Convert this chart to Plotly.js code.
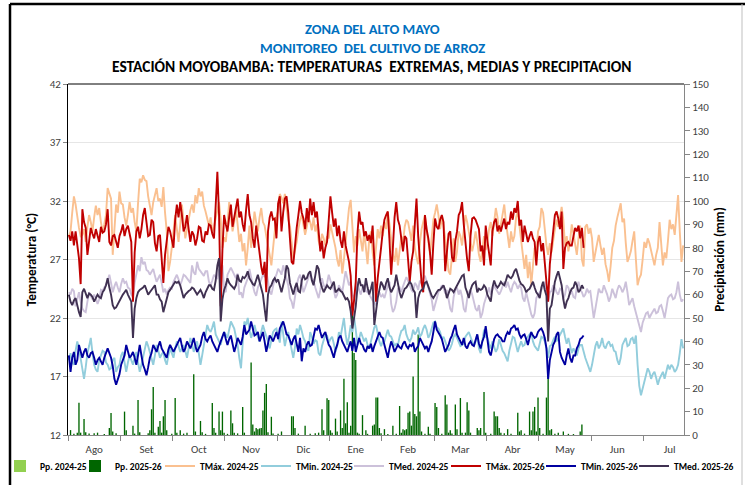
<!DOCTYPE html>
<html><head><meta charset="utf-8">
<script src="https://cdn.plot.ly/plotly-3.0.1.min.js"></script>
<style>html,body{margin:0;padding:0;background:#fff}#chart{width:745px;height:485px}</style>
</head><body><div id="chart"></div>
<script>
// Eje X: días de la campaña (agosto a julio), etiquetas cada 31 días
const monthLabels = ['Ago','Set','Oct','Nov','Dic','Ene','Feb','Mar','Abr','May','Jun','Jul'];

// Campaña 2024-25 (365 días)
const tmax2425 = [
29.0,29.4,31.0,32.4,31.7,30.6,29.7,29.0,29.1,29.6,28.5,29.8,30.8,30.2,29.4,30.6,31.6,30.8,31.4,30.2,29.4,30.0,30.8,33.1,32.6,32.2,27.4,29.6,31.7,31.0,32.8,
31.8,31.7,30.6,29.9,30.8,31.9,31.0,31.4,30.2,29.4,31.8,33.9,33.6,34.2,33.8,33.7,32.4,31.4,30.8,31.9,32.6,33.1,32.0,32.2,31.5,33.2,31.0,29.4,26.0,26.8,28.0,
29.5,30.8,29.6,28.5,30.0,31.7,30.2,28.8,29.6,30.5,31.2,31.7,31.0,32.5,31.8,33.1,32.4,32.8,31.6,31.1,30.4,29.9,30.6,29.4,29.8,30.5,31.2,31.9,30.4,28.0,28.9,
28.5,30.0,31.9,30.8,29.4,30.2,31.4,30.0,28.5,29.2,27.7,28.4,26.5,28.0,29.9,28.0,29.4,31.1,30.2,29.4,30.6,31.4,30.2,29.9,29.0,28.0,27.4,26.5,28.2,29.4,30.6,
31.2,32.6,32.3,31.8,32.6,31.4,30.4,29.9,28.6,27.1,27.8,28.5,29.6,30.4,30.8,30.0,29.1,29.8,30.6,30.2,29.5,30.6,29.4,30.0,28.6,28.0,29.2,28.8,28.2,29.0,28.8,
30.0,29.4,28.6,28.0,27.0,26.4,27.8,25.8,27.0,28.4,30.2,31.4,32.1,30.0,27.6,29.0,28.2,29.6,28.4,27.7,29.4,28.0,26.6,28.8,29.4,27.6,26.5,28.0,29.6,28.8,29.9,
29.0,30.2,29.6,31.1,30.0,28.8,27.4,26.8,28.0,26.5,27.6,29.0,28.4,29.8,30.4,30.2,29.4,28.6,29.9,28.0,27.2,26.6,28.4,29.6,30.2,30.8,29.4,28.6,27.4,28.9,30.4,
31.0,31.7,30.8,29.6,30.5,29.9,28.8,27.4,26.0,25.7,27.6,28.8,26.8,27.7,29.4,29.0,28.2,29.6,30.8,30.2,29.4,28.6,27.7,28.4,29.4,28.5,27.4,26.8,28.0,29.0,27.8,
28.4,29.6,30.2,29.0,30.4,31.4,30.6,29.2,30.0,30.8,31.7,30.2,28.8,28.0,29.4,28.5,29.0,30.6,31.1,29.8,28.4,27.0,26.2,27.4,25.4,26.8,24.8,26.5,28.0,27.2,29.4,
29.8,31.4,31.0,29.4,28.2,27.4,28.4,27.6,28.8,29.6,30.4,29.8,30.6,31.5,30.4,28.2,29.0,27.7,28.6,30.0,29.2,28.4,27.4,28.8,29.9,27.0,26.4,29.8,30.0,29.2,29.7,
28.8,26.8,27.6,28.4,29.1,28.2,27.4,28.0,26.6,26.0,25.1,26.4,28.0,28.6,29.9,30.6,31.2,31.8,30.2,30.5,28.4,26.8,27.2,27.7,28.6,29.4,27.0,24.8,25.4,25.7,27.0,
28.5,28.0,28.8,28.4,27.7,27.0,26.5,27.4,28.0,30.2,28.4,26.5,27.6,27.1,28.6,30.4,29.6,30.0,29.1,30.6,32.5,29.4,26.8,28.2];

const tmin2425 = [
18.4,19.0,18.2,18.0,19.2,20.0,19.4,18.6,17.6,16.8,17.8,19.0,19.6,20.3,19.0,18.0,17.6,17.4,18.4,18.8,19.2,19.1,18.2,18.0,17.6,17.7,18.4,18.6,17.4,17.8,18.0,
18.8,19.1,18.2,17.4,18.2,18.8,18.4,18.0,18.6,19.1,18.2,17.4,18.0,18.6,19.4,20.0,19.6,19.1,18.6,18.0,18.8,19.7,19.2,18.6,18.9,19.1,18.4,18.0,18.8,19.4,19.0,
18.6,19.4,20.0,19.6,19.1,19.4,19.7,19.2,18.6,19.4,20.3,19.8,19.1,19.6,20.0,19.0,18.0,18.8,19.7,20.6,21.4,21.0,20.8,21.2,21.7,20.6,20.3,20.0,19.7,20.4,20.8,
20.6,20.3,21.0,21.7,21.4,21.1,20.4,19.7,18.6,17.7,19.8,21.7,21.4,22.0,21.0,20.3,20.8,21.4,20.8,20.4,20.0,20.8,21.4,20.9,20.5,20.0,19.4,20.2,20.8,21.0,21.1,
20.4,19.9,21.7,20.6,19.6,20.3,20.8,20.0,19.1,18.6,19.5,21.1,20.6,21.4,20.9,20.3,20.0,19.4,19.2,20.8,20.4,19.8,20.1,20.0,19.0,18.8,19.6,20.2,20.6,20.5,19.9,
20.2,20.4,19.8,19.1,19.6,20.8,20.4,21.2,22.0,20.6,19.7,20.4,21.4,20.8,22.1,21.0,19.7,20.2,20.8,20.4,20.0,20.3,19.7,19.4,20.0,20.6,21.2,21.4,20.6,20.0,19.6,
20.0,20.0,20.6,21.0,20.5,20.4,20.0,19.6,19.8,19.7,20.4,20.9,21.0,21.4,20.6,20.2,20.0,20.3,21.0,20.6,20.8,21.2,20.4,20.6,21.1,21.4,21.0,20.3,20.6,21.2,21.6,
21.7,21.2,21.1,20.8,20.2,20.4,20.0,19.6,19.2,19.4,19.8,20.4,20.6,20.3,20.0,19.6,19.7,19.8,20.4,20.6,20.8,20.4,20.0,19.6,20.0,20.6,19.4,19.0,20.0,21.0,20.4,
20.3,19.8,19.4,20.0,19.6,19.1,19.4,20.2,19.7,19.2,19.0,18.6,18.3,19.2,19.8,20.4,20.3,19.7,19.1,19.6,20.0,19.6,19.7,20.2,20.4,20.6,20.8,20.0,19.6,19.4,19.2,
19.8,20.4,20.3,20.0,19.4,18.6,19.6,19.7,20.1,20.4,20.0,20.3,20.6,20.8,21.1,20.4,19.8,20.3,19.6,19.0,19.4,19.1,18.8,19.4,19.7,19.7,19.0,18.6,18.2,17.8,17.4,
18.0,18.8,19.6,20.0,19.4,19.7,20.3,19.6,19.4,19.8,20.0,19.6,19.7,19.2,19.1,18.4,18.0,18.6,19.7,20.0,20.3,19.6,19.7,20.2,20.3,19.8,20.5,18.0,16.2,15.4,16.0,
16.6,17.2,17.7,17.4,16.8,17.2,17.4,16.9,16.3,16.8,17.1,17.4,16.8,17.3,18.0,17.6,18.0,17.8,17.4,17.6,18.0,19.0,20.2,19.4];

const tmed2425 = [
24.2,24.0,24.5,24.3,23.0,23.6,24.2,23.4,22.8,22.6,22.5,23.4,24.2,23.9,23.6,24.0,23.7,23.2,23.6,24.4,24.3,24.6,24.8,25.2,25.7,25.0,24.2,24.7,25.1,24.6,24.2,
24.9,25.4,25.0,25.1,24.6,24.5,24.0,23.8,25.0,25.7,26.5,26.0,27.2,26.6,26.8,26.1,26.0,25.7,26.0,26.2,25.6,25.1,25.4,25.7,25.0,24.2,24.5,24.0,24.4,24.6,24.5,
25.1,25.4,25.7,25.3,24.8,25.2,25.7,25.6,25.4,25.1,25.0,26.5,25.9,25.7,26.8,26.2,26.0,25.7,25.6,26.0,26.0,25.1,24.8,25.2,25.7,25.5,25.4,26.1,26.2,26.5,24.5,
24.2,25.7,26.0,26.3,26.0,25.7,25.4,25.8,24.0,24.2,23.7,24.6,25.1,25.4,26.2,25.4,24.8,24.2,23.9,24.6,24.9,25.3,25.7,25.5,26.0,25.0,24.3,24.0,24.6,25.4,25.7,
26.2,26.0,25.7,26.5,25.9,25.4,24.8,23.7,23.4,22.8,24.0,24.8,25.4,25.7,25.0,24.2,24.6,25.1,25.6,25.9,25.4,25.2,24.6,24.2,23.7,24.4,25.4,24.8,24.5,25.0,25.7,
25.2,24.8,24.4,23.7,24.0,24.8,24.5,24.2,25.1,26.0,25.4,24.8,25.1,24.0,23.7,24.6,25.1,24.4,24.0,24.6,24.8,24.3,24.2,24.0,23.7,23.5,23.3,23.1,24.0,24.2,23.8,
24.0,23.7,24.4,24.8,25.1,23.2,22.5,22.8,23.4,24.5,24.6,24.2,24.7,25.1,25.5,25.2,24.8,24.4,24.2,25.0,24.8,24.4,25.2,25.0,25.4,25.6,25.1,24.6,24.2,23.6,22.6,
23.1,23.8,24.2,24.4,24.8,24.6,24.1,24.4,23.7,22.8,22.5,23.8,24.4,24.6,24.0,24.4,23.8,22.8,22.5,23.6,24.2,24.4,24.0,23.5,22.8,22.6,23.1,22.0,22.4,23.2,23.7,
24.2,24.6,24.0,24.4,24.8,24.5,24.2,24.0,24.3,24.8,25.1,24.6,25.1,24.6,24.2,24.8,25.1,24.9,24.5,24.8,24.6,23.7,23.4,24.2,23.6,22.8,22.3,22.0,22.4,23.7,24.0,
24.2,24.4,24.8,25.1,24.0,23.4,24.2,24.3,24.8,24.6,24.2,24.0,24.5,24.4,23.6,24.0,24.8,24.6,24.0,24.3,23.8,23.7,24.6,25.1,24.4,24.2,23.8,24.0,24.5,24.2,24.3,
23.1,22.0,22.8,23.6,24.5,24.2,24.2,24.8,24.4,24.0,23.4,23.8,24.5,24.0,23.7,24.4,24.8,24.6,24.2,24.5,25.1,24.2,23.1,23.4,23.7,23.0,22.5,22.0,21.4,20.8,21.6,
22.0,22.4,22.5,22.0,22.3,22.6,22.8,22.4,22.5,23.0,23.1,22.6,22.0,22.8,23.7,23.9,24.0,23.6,23.7,24.2,25.1,24.0,23.4,23.6];

// Campaña 2025-26 (306 días registrados)
const tmax2526 = [
29.1,28.6,29.4,28.2,29.4,28.0,27.1,24.9,31.3,30.2,29.7,27.4,28.6,29.7,29.2,28.8,29.6,29.1,28.5,29.8,29.3,29.4,30.0,31.3,28.5,28.2,29.0,29.1,28.4,28.0,29.0,
29.4,30.0,29.0,29.6,29.9,29.2,28.5,23.4,27.6,29.4,29.8,28.8,29.6,30.8,31.4,30.2,29.0,29.1,30.4,30.2,28.4,27.7,29.0,29.1,27.0,25.0,27.4,28.8,29.8,29.4,28.6,
28.0,30.4,31.7,30.6,31.9,30.8,29.4,29.8,30.8,29.6,28.5,29.4,29.1,28.2,28.8,29.8,29.7,28.6,28.5,29.4,29.1,30.0,29.9,29.2,28.8,31.6,34.5,30.8,23.0,27.8,30.8,
30.0,29.4,30.6,31.7,29.8,30.5,31.2,32.2,30.6,31.1,30.0,29.4,31.2,32.6,30.8,30.2,28.8,28.0,29.9,28.6,27.7,26.4,25.7,26.8,24.2,29.4,30.6,31.1,30.4,30.5,28.8,
31.8,32.4,29.4,31.0,32.2,32.4,31.0,28.8,26.8,26.6,28.4,29.7,30.8,32.0,31.0,30.5,29.6,31.4,30.2,32.2,30.8,31.9,30.6,31.1,29.4,27.7,28.6,27.1,28.0,28.5,30.4,
32.4,31.0,29.8,30.5,29.0,29.9,28.6,28.0,29.4,28.2,27.4,26.8,25.6,22.2,23.5,25.1,29.2,31.1,30.0,30.2,29.0,29.4,28.6,29.1,28.4,29.9,27.0,23.4,25.4,26.5,28.0,
29.4,30.4,30.8,31.1,28.6,25.7,28.0,30.6,31.9,30.4,29.9,28.8,27.7,29.0,28.8,27.0,25.1,26.8,27.7,30.0,32.2,29.0,26.5,25.0,24.2,30.8,29.6,28.8,27.6,25.7,28.4,
30.5,29.8,29.6,30.4,30.8,30.2,26.0,27.6,29.2,29.4,27.2,26.8,28.6,29.4,30.8,31.1,31.9,30.0,28.2,27.0,26.0,29.0,30.5,30.6,30.4,29.9,29.6,27.7,28.2,26.5,29.9,
28.6,27.7,26.5,29.4,30.2,30.5,29.4,29.9,29.4,30.0,30.5,29.6,30.2,30.0,31.1,30.4,31.4,31.0,32.0,29.9,30.4,28.5,29.9,29.2,28.5,29.0,29.4,28.8,28.5,26.5,28.5,
29.0,27.7,28.4,26.8,25.0,23.4,26.6,28.0,29.8,30.8,31.1,30.5,29.6,31.1,26.2,28.0,28.4,28.5,28.2,28.2,29.0,29.7,29.4,29.9,28.8,29.7,28.0];

const tmin2526 = [
18.8,17.4,18.6,19.1,18.0,18.4,19.7,19.0,18.6,19.1,19.4,18.8,18.6,19.0,19.1,18.6,18.0,18.4,18.6,18.3,18.0,18.6,19.1,19.4,19.0,18.6,17.9,16.8,16.3,16.8,17.2,
18.0,18.4,18.8,19.7,19.0,18.6,18.8,19.1,18.6,18.0,18.8,19.7,18.8,18.0,17.6,17.1,17.8,18.6,19.0,19.7,19.4,19.1,19.6,20.0,19.4,19.1,18.8,18.6,19.3,19.7,19.4,
19.1,19.4,19.7,20.0,20.3,19.6,19.1,19.4,20.0,19.7,19.4,19.8,20.3,19.6,19.1,19.4,19.7,20.4,20.8,20.2,20.0,20.3,20.5,20.0,19.7,19.4,19.1,19.6,20.0,20.4,20.8,
20.2,19.7,20.2,20.5,19.8,19.1,19.6,20.3,20.0,19.7,20.4,21.4,20.6,20.8,21.0,21.7,21.0,20.5,20.6,20.8,20.0,20.4,20.8,20.0,19.1,19.8,20.5,20.3,20.0,20.4,20.8,
20.2,21.1,21.4,21.7,21.2,20.6,20.5,20.0,19.7,20.2,20.5,19.8,19.1,20.3,18.3,19.4,19.1,19.7,20.0,19.6,19.7,20.4,21.1,21.0,21.4,20.8,20.3,20.6,20.8,20.2,19.7,
19.5,19.1,18.6,19.3,19.7,20.3,20.5,20.0,19.7,19.4,19.1,19.6,20.0,19.2,20.3,19.1,19.7,20.3,19.8,19.7,19.3,19.1,19.6,19.4,19.8,19.1,19.6,20.0,20.5,20.8,20.4,
20.3,19.7,19.1,18.6,19.4,20.0,19.6,19.1,19.4,19.7,19.5,19.4,19.8,20.0,19.6,19.4,19.7,19.6,19.9,19.1,19.4,19.6,20.3,20.0,19.7,19.4,19.6,19.1,19.6,20.0,20.8,
21.7,21.0,20.8,20.5,20.2,19.6,19.1,19.4,19.7,20.2,20.5,21.0,21.4,20.6,20.3,20.0,19.7,20.3,19.6,19.4,19.8,20.0,19.7,19.6,20.2,20.6,19.8,19.4,20.0,20.4,21.3,
20.0,19.1,18.8,19.4,20.2,20.5,20.6,20.4,20.3,20.0,20.0,20.5,20.8,20.6,21.1,21.2,21.4,21.0,21.1,20.6,20.3,20.5,20.6,20.2,19.7,20.3,20.8,20.5,20.3,20.4,20.8,
21.0,21.1,20.8,20.3,19.4,16.8,18.4,19.1,19.7,20.0,20.6,20.8,19.1,18.6,18.3,18.0,18.8,19.4,18.6,18.2,18.8,18.8,19.4,19.7,20.2,20.3,20.5];

const tmed2526 = [
24.0,23.4,23.1,23.5,23.7,23.0,22.5,22.1,24.2,24.5,24.0,23.7,24.1,24.0,23.8,23.4,23.7,24.0,23.8,23.7,24.2,24.4,24.8,25.4,24.6,24.0,23.1,22.8,22.9,23.2,23.4,
23.8,24.0,24.2,24.4,24.0,23.7,23.4,20.3,22.8,23.7,24.2,24.4,24.5,24.6,24.8,24.4,24.0,24.2,24.4,24.6,24.8,24.0,24.0,23.6,23.4,22.5,23.0,23.7,24.2,24.4,24.6,
24.8,25.1,25.0,25.1,24.8,24.2,23.7,24.0,24.2,24.3,24.4,24.6,24.5,24.3,24.0,24.2,24.4,24.1,23.7,24.2,24.5,24.8,24.8,24.5,24.4,25.2,26.5,27.1,21.7,23.6,24.4,
24.8,25.4,25.0,24.8,24.6,24.5,24.8,25.7,25.2,25.1,25.5,25.4,25.6,26.0,25.4,25.1,24.9,24.8,25.3,25.7,25.1,24.5,24.0,22.8,21.7,24.0,24.6,24.8,25.2,25.4,25.1,
25.3,24.6,24.2,24.8,25.4,26.5,26.2,25.0,24.4,24.0,24.6,25.0,24.3,24.2,25.2,25.7,25.3,25.4,25.8,26.0,25.2,24.8,25.6,26.5,26.2,25.1,24.6,24.2,24.5,24.8,24.6,
24.5,24.8,25.1,24.2,24.4,24.5,24.3,24.2,23.9,23.6,23.7,23.4,22.6,21.1,22.0,23.0,24.6,25.4,24.8,24.8,24.2,25.4,24.6,24.0,24.5,25.1,21.4,22.8,23.7,24.4,25.1,
24.8,24.4,25.0,25.4,24.6,24.2,24.5,24.8,25.7,24.8,24.2,23.7,24.2,24.5,24.6,24.8,25.1,24.9,24.4,24.2,22.0,23.7,24.2,24.4,24.5,25.0,25.1,24.7,24.2,23.9,23.7,
24.0,24.2,24.4,24.4,24.6,24.8,24.4,23.7,24.1,24.5,24.4,24.2,24.5,24.8,25.0,25.4,25.6,25.7,24.6,24.2,23.7,24.4,24.8,25.0,25.1,24.2,24.5,24.4,24.5,24.8,24.6,
24.0,23.7,23.4,24.6,25.2,24.8,24.6,24.8,25.1,24.9,24.8,25.2,25.7,25.5,25.4,25.6,26.0,26.2,25.6,25.2,24.9,24.8,24.6,24.2,24.4,24.5,24.8,25.1,24.6,24.2,24.0,
23.7,24.6,25.1,24.4,23.9,20.0,22.8,23.1,24.2,25.1,25.6,26.0,25.4,24.8,23.6,22.8,23.4,23.7,24.2,24.5,24.6,25.1,24.8,24.2,24.4,24.8,24.5];

// Precipitación 2025-26: día de campaña y lámina (mm); días sin lluvia omitidos
const ppDays2526 = [1,3,5,6,7,9,10,12,15,17,21,24,25,26,28,33,34,38,39,41,42,47,48,49,50,51,53,54,55,56,57,58,61,63,64,66,68,70,74,75,78,79,81,85,86,87,89,90,91,92,94,96,97,98,100,103,104,108,109,110,111,112,113,114,115,116,117,118,120,121,124,126,132,133,134,136,140,143,146,148,150,151,153,154,155,156,158,159,161,162,163,164,165,166,167,168,169,170,171,172,174,176,177,180,181,182,183,184,185,187,189,192,194,196,197,198,199,200,201,202,203,204,205,206,207,208,209,211,213,214,217,218,219,221,223,224,225,226,227,229,230,232,233,235,236,237,238,242,243,244,246,247,250,252,253,254,255,256,258,260,262,266,267,268,270,273,274,275,276,277,278,279,281,283,284,285,286,288,290,293,296,299,303,304];
const ppMm2526 = [2.1,0.5,1.0,13.8,1.0,6.8,1.2,0.6,0.8,1.0,0.4,3.0,9.4,1.5,0.8,10.0,2.0,4.0,0.6,15.0,1.2,0.7,2.0,11.0,20.5,1.0,3.5,6.0,1.0,8.0,15.0,2.0,0.5,15.8,1.0,2.0,0.6,1.0,26.0,1.5,6.0,1.2,0.5,13.7,3.0,1.0,10.0,2.0,10.0,1.0,0.5,10.5,5.0,1.0,0.7,12.0,1.0,31.0,4.5,1.5,3.0,2.5,2.8,3.0,10.5,18.0,21.8,1.2,7.8,0.6,0.5,1.5,8.0,8.0,3.0,0.6,4.0,0.5,0.8,1.0,11.0,2.0,15.7,15.0,2.0,1.0,7.0,1.5,10.5,3.0,24.0,5.0,14.0,1.0,4.0,53.0,35.0,32.0,1.0,0.5,8.5,2.0,0.5,4.0,4.5,16.0,16.0,3.0,0.8,2.5,0.4,4.0,0.5,12.4,1.0,2.5,2.0,2.5,9.5,10.0,4.0,25.0,9.0,8.0,43.0,10.0,1.5,0.5,3.5,0.5,13.7,12.0,3.0,0.5,17.0,13.0,1.0,2.0,0.6,13.0,2.5,15.8,1.0,1.0,14.0,10.5,1.0,3.0,2.0,3.0,18.4,1.0,0.5,10.0,8.0,8.0,3.0,1.0,0.8,2.5,0.5,9.5,1.5,2.0,0.6,10.0,2.0,10.0,12.0,1.5,16.0,3.0,0.5,16.0,27.0,2.0,2.5,0.5,1.0,1.5,0.5,0.4,1.5,4.5];

const FONT = "Carlito, 'Liberation Sans Narrow', 'Open Sans', sans-serif";
const idx = a => a.map((_, i) => i);
const monthMid = monthLabels.map((_, k) => 15 + 31 * k);
const monthEdge = monthLabels.map((_, k) => -0.5 + 31 * k);

function lineTrace(name, y, color, lg) {
  return {type: 'scatter', mode: 'lines', name: name, x: idx(y), y: y, yaxis: 'y2',
          line: {color: color, width: 1.9}, legend: lg, hoverinfo: 'skip'};
}

const traces = [
  {type: 'bar', name: 'Pp. 2024-25', x: [null], y: [null], yaxis: 'y', marker: {color: '#92D050'}, legend: 'legend'},
  {type: 'bar', name: 'Pp. 2025-26', x: ppDays2526, y: ppMm2526, yaxis: 'y', marker: {color: '#006600', line: {width: 0}}, legend: 'legend2', hoverinfo: 'skip'},
  lineTrace('TMáx. 2024-25', tmax2425, '#FAC090', 'legend3'),
  lineTrace('TMin. 2024-25', tmin2425, '#92CDDC', 'legend4'),
  lineTrace('TMed. 2024-25', tmed2425, '#CCC1DA', 'legend5'),
  lineTrace('TMáx. 2025-26', tmax2526, '#C00000', 'legend6'),
  lineTrace('TMin. 2025-26', tmin2526, '#0000A0', 'legend7'),
  lineTrace('TMed. 2025-26', tmed2526, '#403152', 'legend8')
];

const W = 745, H = 485, L = 68, R = 61, T = 84, B = 50;
const pw = W - L - R, ph = H - T - B;
const px = X => (X - L) / pw;           // pixel -> paper x
const py = Y => (H - B - Y) / ph;       // pixel -> paper y

function lg(xPix) {
  return {x: px(xPix), y: py(466), xanchor: 'left', yanchor: 'middle', orientation: 'h',
          bgcolor: 'rgba(0,0,0,0)', borderwidth: 0, itemwidth: 30,
          font: {family: FONT, size: 9.5, color: '#000', weight: 'bold'}};
}

const layout = {
  width: W, height: H,
  margin: {l: L, r: R, t: T, b: B, pad: 0, autoexpand: false},
  paper_bgcolor: '#fff', plot_bgcolor: '#fff',
  font: {family: FONT, size: 11, color: '#404040'},
  barmode: 'overlay', bargap: 0.2,
  xaxis: {
    range: [-0.5, 364.5], tickmode: 'array', tickvals: monthMid, ticktext: monthLabels,
    ticks: '', ticklabelstandoff: 4, showgrid: false, zeroline: false,
    showline: true, linecolor: '#868686', linewidth: 1,
    tickfont: {family: FONT, size: 11, color: '#404040'},
    minor: {tickmode: 'array', tickvals: monthEdge, ticks: 'outside', ticklen: 5, tickcolor: '#868686', tickwidth: 1, showgrid: false}
  },
  yaxis: {
    side: 'right', range: [0, 150], tickmode: 'linear', tick0: 0, dtick: 10,
    showgrid: false, zeroline: false, showline: true, linecolor: '#868686', linewidth: 1,
    ticks: 'outside', ticklen: 5, tickcolor: '#868686',
    tickfont: {family: FONT, size: 11, color: '#404040'},
    title: {text: '<b>Precipitación (mm)</b>', font: {family: FONT, size: 13.3, color: '#000'}, standoff: 6}
  },
  yaxis2: {
    overlaying: 'y', side: 'left', range: [12, 42], tickmode: 'linear', tick0: 12, dtick: 5,
    showgrid: true, gridcolor: '#E6E6E6', gridwidth: 1, zeroline: false,
    showline: true, linecolor: '#000', linewidth: 1,
    ticks: 'outside', ticklen: 4, tickcolor: '#868686',
    tickfont: {family: FONT, size: 11, color: '#404040'},
    title: {text: '<b>Temperatura (°C)</b>', font: {family: FONT, size: 13.3, color: '#000'}, standoff: 9}
  },
  legend: lg(0), legend2: lg(75), legend3: lg(160), legend4: lg(256),
  legend5: lg(349), legend6: lg(446), legend7: lg(541), legend8: lg(634),
  annotations: [
    {xref: 'paper', yref: 'paper', x: px(372), y: py(29.5), xanchor: 'center', yanchor: 'middle', showarrow: false,
     text: '<b>ZONA DEL ALTO MAYO</b>', font: {family: FONT, size: 14.5, color: '#0070C0'}},
    {xref: 'paper', yref: 'paper', x: px(372), y: py(47.5), xanchor: 'center', yanchor: 'middle', showarrow: false,
     text: '<b>MONITOREO  DEL CULTIVO DE ARROZ</b>', font: {family: FONT, size: 14.5, color: '#0070C0'}},
    {xref: 'paper', yref: 'paper', x: px(372), y: py(66.5), xanchor: 'center', yanchor: 'middle', showarrow: false,
     text: '<b>ESTACIÓN MOYOBAMBA: TEMPERATURAS  EXTREMAS, MEDIAS Y PRECIPITACION</b>', font: {family: FONT, size: 15.5, color: '#000'}}
  ],
  shapes: [
    {type: 'line', xref: 'paper', yref: 'paper', x0: 0, x1: 1, y0: 1, y1: 1, line: {color: '#000', width: 1}},
    {type: 'line', xref: 'paper', yref: 'paper', x0: px(10), x1: px(10), y0: py(4), y1: py(485), line: {color: '#000', width: 2.5}},
    {type: 'line', xref: 'paper', yref: 'paper', x0: px(10), x1: px(745), y0: py(4), y1: py(4), line: {color: '#000', width: 2.5}},
    {type: 'line', xref: 'paper', yref: 'paper', x0: px(742), x1: px(742), y0: py(4), y1: py(485), line: {color: '#BFBFBF', width: 1}}
  ],
  showlegend: true,
  hovermode: false
};

Plotly.newPlot('chart', traces, layout, {displayModeBar: false, staticPlot: true});
</script>
</body></html>
